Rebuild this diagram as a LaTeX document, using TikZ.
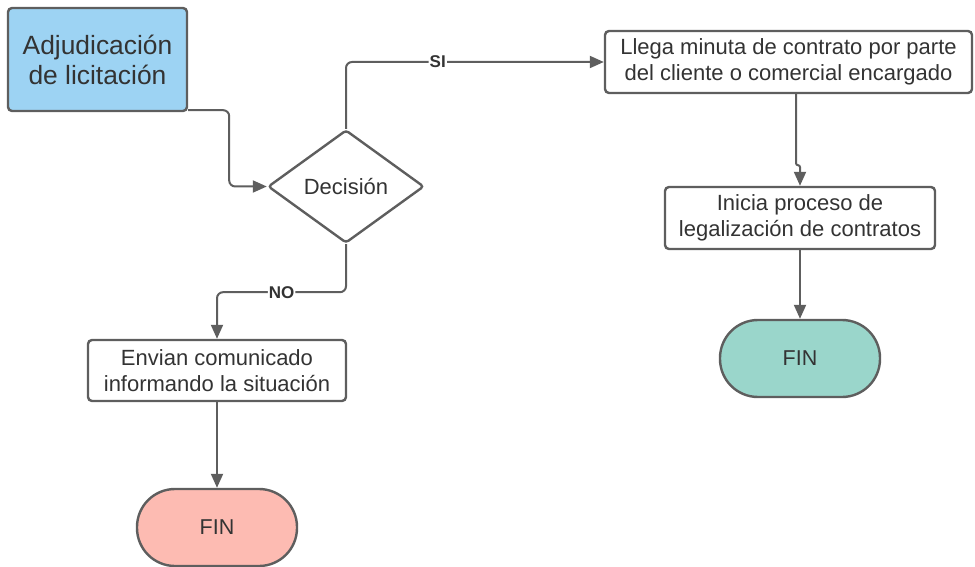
\documentclass[tikz,border=0pt]{standalone}
\usepackage{fontspec}
\setmainfont{Liberation Sans}
\usetikzlibrary{shapes.geometric,arrows.meta,calc}
\definecolor{linegray}{HTML}{5E5E5E}
\definecolor{textgray}{HTML}{333333}
\definecolor{startblue}{HTML}{9DD3F3}
\definecolor{endred}{HTML}{FDBBB2}
\definecolor{endteal}{HTML}{9AD6CB}
\begin{document}
\begin{tikzpicture}[x=1pt,y=-1pt,
  every node/.style={text=textgray},
  procbox/.style={draw=linegray,line width=2.4pt,rounded corners=4pt,fill=white,
    align=center,inner sep=0pt,font=\fontsize{22}{25.5}\selectfont},
  startbox/.style={procbox,fill=startblue,font=\fontsize{26.4}{30}\selectfont},
  decbox/.style={draw=linegray,line width=2.4pt,shape=diamond,rounded corners=3pt,
    fill=white,inner sep=0pt,font=\fontsize{22}{25.5}\selectfont},
  endbox/.style={draw=linegray,line width=2.4pt,rounded corners=38pt,
    minimum width=160pt,minimum height=77pt,inner sep=0pt,
    font=\fontsize{21.5}{25}\selectfont},
  conn/.style={draw=linegray,line width=2pt,rounded corners=6pt,
    -{Triangle[length=14pt,width=12pt]}},
  lbl/.style={fill=white,inner sep=1pt,text=textgray,font=\bfseries\fontsize{17}{20}\selectfont}]
  \useasboundingbox (0,0) rectangle (975,567);

  \node[startbox,minimum width=179pt,minimum height=103pt] (start) at (97.5,59.5)
    {Adjudicación\\de licitación};
  \node[decbox,minimum width=156pt,minimum height=113pt] (dec) at (346,186.5) {Decisión};
  \node[procbox,minimum width=367pt,minimum height=62pt] (llega) at (788.5,62)
    {Llega minuta de contrato por parte\\del cliente o comercial encargado};
  \node[procbox,minimum width=270pt,minimum height=62pt] (inicia) at (800,218)
    {Inicia proceso de\\legalización de contratos};
  \node[endbox,fill=endteal] (finR) at (800,358.5) {FIN};
  \node[procbox,minimum width=258pt,minimum height=61pt] (envian) at (217,370.5)
    {Envian comunicado\\informando la situación};
  \node[endbox,fill=endred] (finL) at (217,527.5) {FIN};

  \draw[conn] ([yshift=2pt]start.south east) -- ++(41pt,0) |- (dec.west);
  \draw[conn] (dec.north) |- node[pos=0.678,lbl] {SI} (llega.west);
  \draw[conn] (dec.south) -- ++(0,-48pt) -| node[pos=0.25,lbl] {NO} (envian.north);
  \draw[conn,rounded corners=2pt] ([xshift=7.5pt]llega.south) -- ++(0,-71pt) -| (inicia.north);
  \draw[conn] (inicia.south) -- (finR.north);
  \draw[conn] (envian.south) -- (finL.north);
\end{tikzpicture}
\end{document}
